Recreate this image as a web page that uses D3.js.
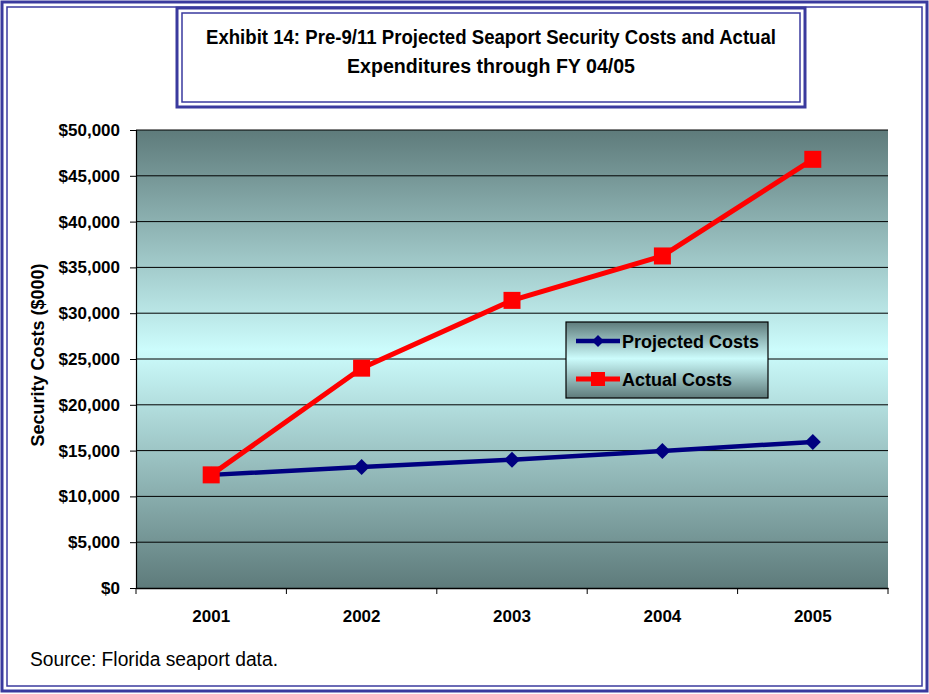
<!DOCTYPE html>
<html>
<head>
<meta charset="utf-8">
<script src="https://cdn.jsdelivr.net/npm/d3@7/dist/d3.min.js"></script>
<style>
  body { margin: 0; background: #fff; }
  svg text { font-family: Arial, "Liberation Sans", sans-serif; }
</style>
</head>
<body>
<div id="graph"></div>
<script>
// data ($000)
var years = ["2001", "2002", "2003", "2004", "2005"];
var projected = [12350, 13200, 14000, 14950, 15950];
var actual = [12350, 24000, 31400, 36250, 46800];
var yTicks = [0, 5000, 10000, 15000, 20000, 25000, 30000, 35000, 40000, 45000, 50000];
var seriesNames = ["Projected Costs", "Actual Costs"];

var w = 929, h = 694;
var plotL = 136, plotR = 888, plotT = 130, plotB = 588;

var svg = d3.select("#graph").append("svg")
  .attr("width", w)
  .attr("height", h);

var defs = svg.append("defs");
var grad = defs.append("linearGradient")
  .attr("id", "bg")
  .attr("x1", 0).attr("y1", 0).attr("x2", 0).attr("y2", 1);
grad.append("stop").attr("offset", "0%").attr("stop-color", "#5e7b7b");
grad.append("stop").attr("offset", "48%").attr("stop-color", "#ccfcfc");
grad.append("stop").attr("offset", "100%").attr("stop-color", "#5e7b7b");

// outer frame (double line)
var frameColor = "#3a3a9e";
svg.append("rect").attr("x", 2).attr("y", 2).attr("width", w - 4).attr("height", h - 5)
  .attr("fill", "none").attr("stroke", frameColor).attr("stroke-width", 3);
svg.append("rect").attr("x", 7).attr("y", 7).attr("width", w - 14).attr("height", h - 15)
  .attr("fill", "none").attr("stroke", frameColor).attr("stroke-width", 1.5);

// title box (double line)
svg.append("rect").attr("x", 177).attr("y", 8).attr("width", 628).attr("height", 99)
  .attr("fill", "#fff").attr("stroke", frameColor).attr("stroke-width", 3);
svg.append("rect").attr("x", 182).attr("y", 13).attr("width", 618).attr("height", 89)
  .attr("fill", "none").attr("stroke", frameColor).attr("stroke-width", 1.5);

svg.append("text")
  .attr("x", 491).attr("y", 44)
  .attr("text-anchor", "middle")
  .style("font-family", "'Liberation Sans Narrow', 'Arial Narrow', sans-serif")
  .style("font-weight", "bold")
  .style("font-size", "20px")
  .attr("textLength", 570)
  .attr("lengthAdjust", "spacingAndGlyphs")
  .text("Exhibit 14: Pre-9/11 Projected Seaport Security Costs and Actual");
svg.append("text")
  .attr("x", 491).attr("y", 73)
  .attr("text-anchor", "middle")
  .style("font-family", "'Liberation Sans Narrow', 'Arial Narrow', sans-serif")
  .style("font-weight", "bold")
  .style("font-size", "20px")
  .attr("textLength", 288)
  .attr("lengthAdjust", "spacingAndGlyphs")
  .text("Expenditures through FY 04/05");

// scales
var x = d3.scaleBand().domain(years).range([plotL, plotR]);
var y = d3.scaleLinear().domain([0, 50000]).range([plotB, plotT]);

// plot area
svg.append("rect")
  .attr("x", plotL).attr("y", plotT)
  .attr("width", plotR - plotL).attr("height", plotB - plotT)
  .attr("fill", "url(#bg)");

// gridlines
svg.append("g").selectAll("line")
  .data(yTicks.slice(1))
  .enter().append("line")
  .attr("x1", plotL).attr("x2", plotR)
  .attr("y1", function (d) { return y(d); })
  .attr("y2", function (d) { return y(d); })
  .attr("stroke", "#000").attr("stroke-width", 1);

// y axis
var yAxis = svg.append("g")
  .attr("transform", "translate(" + plotL + ",0)")
  .call(d3.axisLeft(y).tickValues(yTicks).tickSize(6).tickPadding(10)
    .tickFormat(function (d) { return "$" + d3.format(",")(d); }));
yAxis.select(".domain").attr("stroke", "#000").attr("stroke-width", 1.2);
yAxis.selectAll("text")
  .style("font-size", "17px").style("font-weight", "bold").attr("fill", "#000");

// x axis
var xAxis = svg.append("g")
  .attr("transform", "translate(0," + plotB + ")")
  .call(d3.axisBottom(x).tickSize(0).tickPadding(22));
xAxis.select(".domain").attr("stroke", "#000").attr("stroke-width", 1.5);
xAxis.selectAll("text")
  .style("font-size", "17px").style("font-weight", "bold").attr("fill", "#000");
// tick marks at category boundaries
xAxis.selectAll(".bound")
  .data(years.concat(["end"]))
  .enter().append("line")
  .attr("class", "bound")
  .attr("x1", function (d, i) { return plotL + i * x.step(); })
  .attr("x2", function (d, i) { return plotL + i * x.step(); })
  .attr("y1", 0).attr("y2", 6)
  .attr("stroke", "#000");

// y axis title
svg.append("text")
  .attr("transform", "translate(44," + 355 + ") rotate(-90)")
  .attr("text-anchor", "middle")
  .style("font-size", "18px").style("font-weight", "bold")
  .text("Security Costs ($000)");

var cx = function (d, i) { return x(years[i]) + x.bandwidth() / 2; };
var line = d3.line()
  .x(function (d, i) { return cx(d, i); })
  .y(function (d) { return y(d); });

// projected
svg.append("path").datum(projected)
  .attr("d", line).attr("fill", "none")
  .attr("stroke", "#000080").attr("stroke-width", 4.5);
svg.append("g").selectAll("path")
  .data(projected).enter().append("path")
  .attr("transform", function (d, i) { return "translate(" + cx(d, i) + "," + y(d) + ")"; })
  .attr("d", "M0,-8L8,0L0,8L-8,0Z")
  .attr("fill", "#000080");

// actual
svg.append("path").datum(actual)
  .attr("d", line).attr("fill", "none")
  .attr("stroke", "#ff0000").attr("stroke-width", 5);
svg.append("g").selectAll("rect")
  .data(actual).enter().append("rect")
  .attr("x", function (d, i) { return cx(d, i) - 8.5; })
  .attr("y", function (d) { return y(d) - 8.5; })
  .attr("width", 17).attr("height", 17)
  .attr("fill", "#ff0000");

// legend
var legend = svg.append("g").attr("transform", "translate(566,322)");
legend.append("rect")
  .attr("width", 202).attr("height", 76)
  .attr("fill", "url(#bg)").attr("stroke", "#000").attr("stroke-width", 1.2);
var legendColors = ["#000080", "#ff0000"];
seriesNames.forEach(function (name, i) {
  var ly = 19 + i * 38;
  legend.append("line")
    .attr("x1", 10).attr("x2", 54).attr("y1", ly).attr("y2", ly)
    .attr("stroke", legendColors[i]).attr("stroke-width", i == 0 ? 4.5 : 5);
  if (i == 0) {
    legend.append("path")
      .attr("transform", "translate(32," + ly + ")")
      .attr("d", "M0,-6L6,0L0,6L-6,0Z").attr("fill", legendColors[i]);
  } else {
    legend.append("rect")
      .attr("x", 25).attr("y", ly - 7).attr("width", 14).attr("height", 14)
      .attr("fill", legendColors[i]);
  }
  legend.append("text")
    .attr("x", 56).attr("y", ly + 6.5)
    .style("font-size", "18px").style("font-weight", "bold")
    .text(name);
});

// source
svg.append("text")
  .attr("x", 30).attr("y", 666)
  .style("font-family", "'Liberation Sans Narrow', 'Arial Narrow', sans-serif")
  .style("font-size", "20px")
  .attr("textLength", 248)
  .attr("lengthAdjust", "spacingAndGlyphs")
  .text("Source: Florida seaport data.");
</script>
</body>
</html>
